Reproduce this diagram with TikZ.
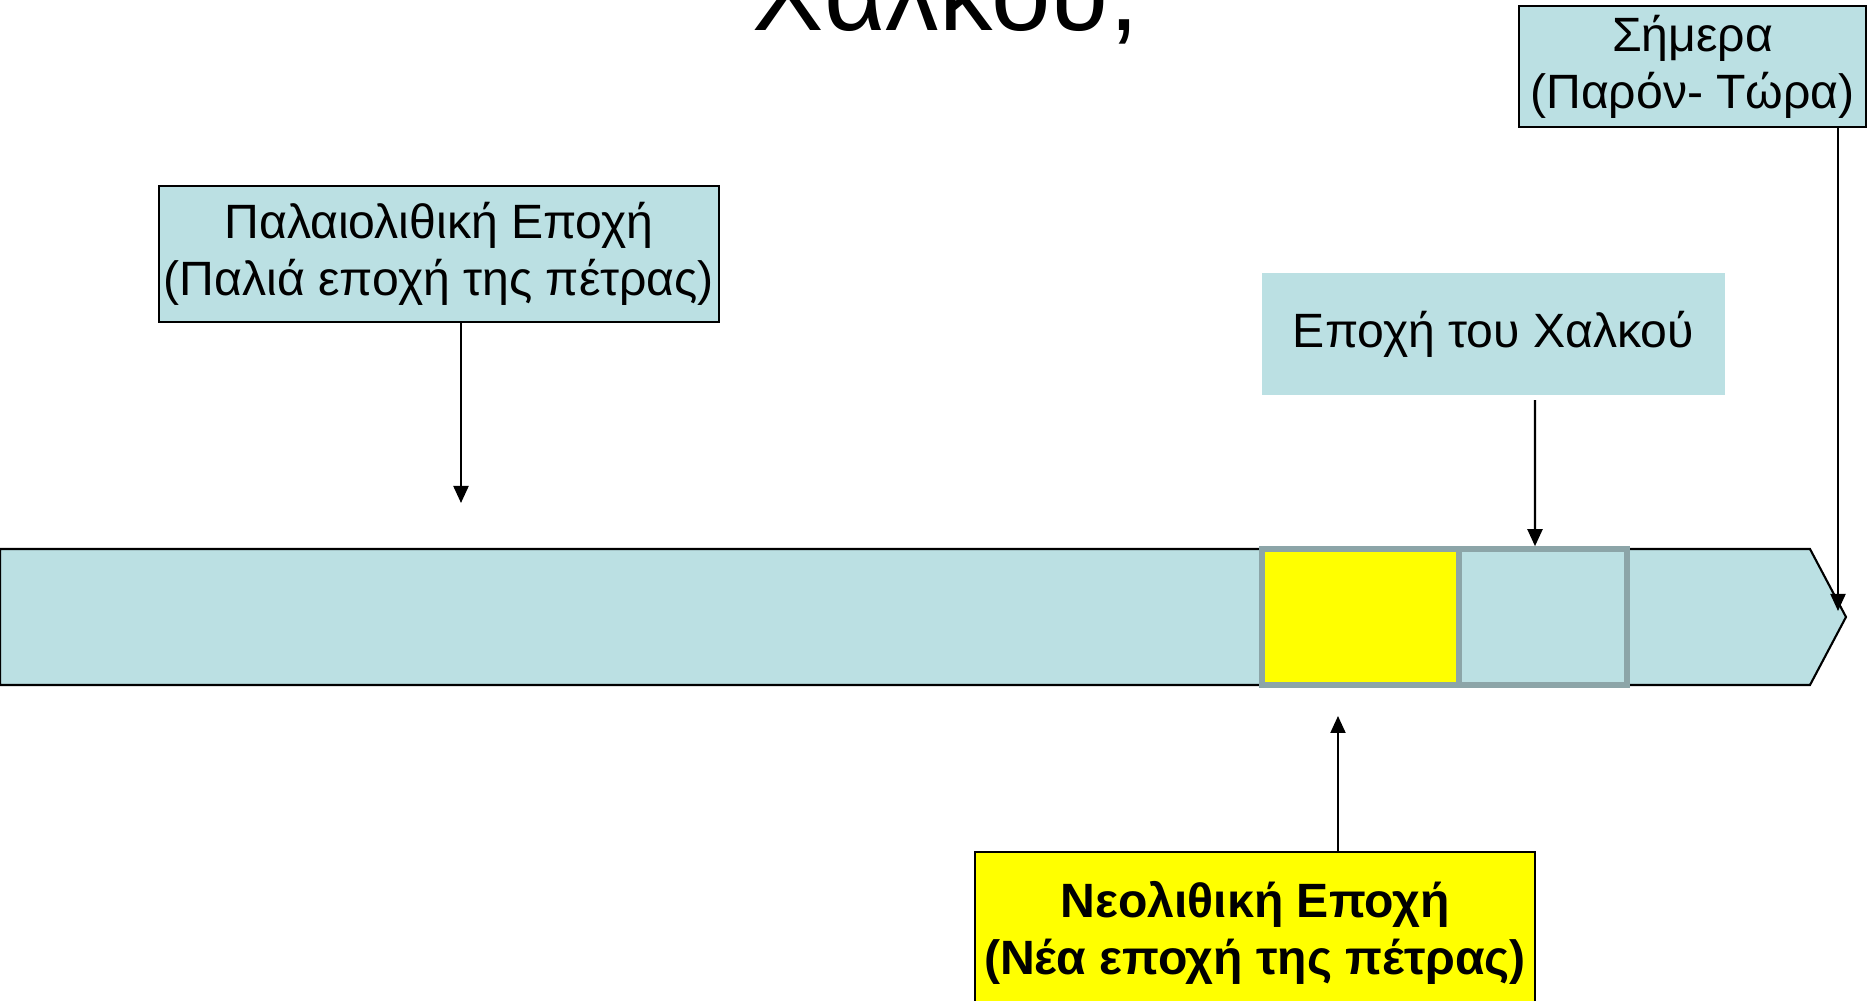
\documentclass[tikz,border=0pt]{standalone}
\usepackage{fontspec}
\setmainfont{Liberation Sans}
\usetikzlibrary{arrows.meta}
\definecolor{paleblue}{HTML}{BBE0E3}
\definecolor{greyedge}{HTML}{8CA5A8}
\definecolor{brightyellow}{HTML}{FFFF00}
\tikzset{
  epoch/.style={draw=black, line width=0.6pt, fill=paleblue, align=center, inner sep=0pt,
    font=\fontsize{13.7pt}{16.2pt}\selectfont},
  segment/.style={draw=greyedge, line width=1.6pt, inner sep=0pt, minimum height=1.36cm},
  pointer/.style={line width=0.6pt, -{Triangle[width=0.15cm,length=0.17cm]}},
}
\begin{document}
\begin{tikzpicture}
\useasboundingbox (0,0) rectangle (18.72,10.01);

\node[font=\fontsize{30.4pt}{36pt}\selectfont, anchor=base] (title) at (9.46,9.70) {Χαλκού;};

\draw[fill=paleblue, line width=0.6pt] (0,3.16) -- (18.10,3.16) -- (18.46,3.84) -- (18.10,4.52) -- (0,4.52) -- cycle;
\node[segment, fill=brightyellow, minimum width=1.97cm] (neoseg) at (13.605,3.84) {};
\node[segment, fill=paleblue, minimum width=1.68cm] (bronzeseg) at (15.43,3.84) {};

\node[epoch, minimum width=5.60cm, minimum height=1.36cm] (palaeo) at (4.39,7.47) {Παλαιολιθική Εποχή\\(Παλιά εποχή της πέτρας)};
\node[epoch, draw=none, minimum width=4.63cm, minimum height=1.22cm] (copper) at (14.935,6.67) {Εποχή του Χαλκού};
\node[epoch, minimum width=3.47cm, minimum height=1.21cm] (today) at (16.925,9.345) {Σήμερα\\(Παρόν- Τώρα)};
\node[epoch, fill=brightyellow, font=\fontsize{13.7pt}{16.2pt}\selectfont\bfseries, minimum width=5.60cm, minimum height=1.62cm, anchor=north] (neolithic) at (12.55,1.50) {Νεολιθική Εποχή\\(Νέα εποχή της πέτρας)};

\coordinate (palaeoend) at (4.61,4.98);
\coordinate (todayend) at (18.38,3.90);
\coordinate (neoend) at (13.38,2.85);

\draw[pointer] (palaeo.south -| palaeoend) -- (palaeoend);
\draw[pointer] ([xshift=0.415cm,yshift=-0.04cm]copper.south) -- ([xshift=-0.08cm]bronzeseg.north);
\draw[pointer] (today.south -| todayend) -- (todayend);
\draw[pointer] (neolithic.north -| neoend) -- (neoend);
\end{tikzpicture}
\end{document}
